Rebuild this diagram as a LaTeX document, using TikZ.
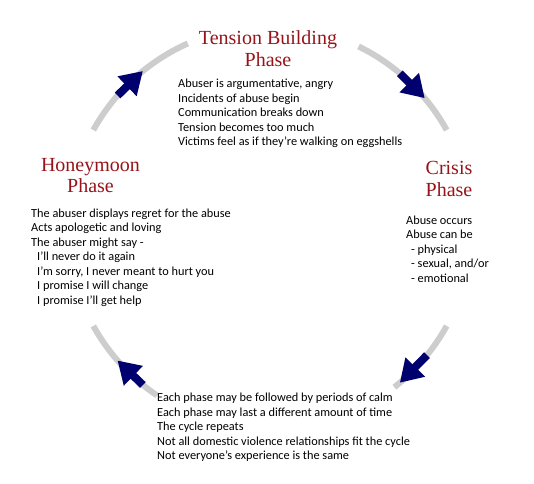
\documentclass[tikz,border=0pt]{standalone}
\usepackage{fontspec}
\setmainfont{Carlito}
\newfontfamily\titlefont{Liberation Serif}
\usetikzlibrary{arrows.meta}
\definecolor{phasered}{RGB}{150,20,25}
\definecolor{cyclegray}{RGB}{205,205,205}
\definecolor{arrowblue}{RGB}{0,0,110}
\pgfdeclarelayer{arclayer}
\pgfdeclarelayer{arrowlayer}
\pgfsetlayers{arclayer,arrowlayer,main}
\tikzset{
  phase/.style={text=phasered, font=\titlefont\fontsize{20}{21.5}\selectfont, align=center, inner sep=0pt},
  notes/.style={font=\fontsize{12.3}{14.5}\selectfont, align=left, anchor=north west, inner sep=0pt},
  cyclearc/.style={draw=cyclegray, line width=6pt},
  turn/.style={draw=arrowblue, line width=8pt, -{Triangle[width=26pt,length=22pt]}},
}

\begin{document}
\begin{tikzpicture}[x=1pt,y=1pt]
  \useasboundingbox (-270,-255) rectangle (264,228);
  \begin{pgfonlayer}{arclayer}
    \draw [cyclearc] (114:202) arc (114:151:202);
    \draw [cyclearc] (29:202) arc (29:64:202);
    \draw [cyclearc] (209:202) arc (209:236:202);
    \draw [cyclearc] (308:202) arc (308:331:202);
  \end{pgfonlayer}
  \begin{pgfonlayer}{arrowlayer}
    \coordinate (tl0) at (139:202);
    \coordinate (tl1) at (129:202);
    \coordinate (tr0) at (50:202);
    \coordinate (tr1) at (40:202);
    \coordinate (br0) at (-39:202);
    \coordinate (br1) at (-50:202);
    \coordinate (bl0) at (231:202);
    \coordinate (bl1) at (221:202);
    \draw [turn] (tl0) to (tl1);
    \draw [turn] (tr0) to (tr1);
    \draw [turn] (br0) to (br1);
    \draw [turn] (bl0) to (bl1);
  \end{pgfonlayer}
  \node [phase] (tension) at (-2, 179.5) {Tension Building\\Phase};
  \node [notes] (tensionnotes) at (-92, 149) {Abuser is argumentative, angry\\Incidents of abuse begin\\Communication breaks down\\Tension becomes too much\\Victims feel as if they're walking on eggshells};
  \node [phase] (crisis) at (179, 49) {Crisis\\Phase};
  \node [notes] (crisisnotes) at (136, 12.5) {Abuse occurs\\Abuse can be\\\hspace*{5pt}- physical\\\hspace*{5pt}- sexual, and/or\\\hspace*{5pt}- emotional};
  \node [phase] (honeymoon) at (-179.5, 52.5) {Honeymoon\\Phase};
  \node [notes] (honeymoonnotes) at (-239, 19.5) {The abuser displays regret for the abuse\\Acts apologetic and loving\\The abuser might say -\\\hspace*{6pt}I’ll never do it again\\\hspace*{6pt}I’m sorry, I never meant to hurt you\\\hspace*{6pt}I promise I will change\\\hspace*{6pt}I promise I’ll get help};
  \node [notes] (cyclenotes) at (-113, -165) {Each phase may be followed by periods of calm\\Each phase may last a different amount of time\\The cycle repeats\\Not all domestic violence relationships fit the cycle\\Not everyone’s experience is the same};
\end{tikzpicture}
\end{document}
